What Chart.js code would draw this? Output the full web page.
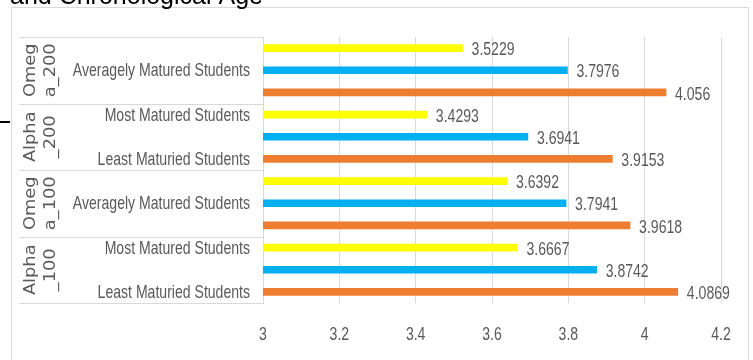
<!DOCTYPE html>
<html>
<head>
<meta charset="utf-8">
<script src="https://cdn.jsdelivr.net/npm/chart.js@4/dist/chart.umd.min.js"></script>
<style>
  html, body { margin: 0; padding: 0; background: #ffffff; overflow: hidden; }
  #wrap { position: relative; width: 753px; height: 360px; }
  #c { position: absolute; left: 0; top: 0; }
  #mark { position: absolute; left: 0; top: 121px; width: 10px; height: 2px; background: #000; }
</style>
</head>
<body>
<div id="wrap">
  <canvas id="c" width="753" height="360"></canvas>
  <div id="mark"></div>
</div>
<script>
// ---- data (bottom to top, as in the reference) ----
const titleText = 'and Chronological Age';
const groupLines = [['Alpha', '_100'], ['Omeg', 'a_100'], ['Alpha', '_200'], ['Omeg', 'a_200']];
const subCategories = ['Least Maturied Students', 'Averagely Matured Students', 'Most Matured Students'];
const alpha100 = [4.0869, 3.8742, 3.6667];
const omega100 = [3.9618, 3.7941, 3.6392];
const alpha200 = [3.9153, 3.6941, 3.4293];
const omega200 = [4.056, 3.7976, 3.5229];
const xTickLabels = ['3', '3.2', '3.4', '3.6', '3.8', '4', '4.2'];
const subColors = ['#ED7D31', '#00B0F0', '#FFFF00'];

const groupValues = [alpha100, omega100, alpha200, omega200];
const labels = [];
const values = [];
const colors = [];
groupValues.forEach(g => g.forEach((v, i) => { labels.push(subCategories[i]); values.push(v); colors.push(subColors[i]); }));

const TEXT = '#595959';
const LINE = '#d9d9d9';
const NARROW_FONT = "19px 'Liberation Sans', Arial, sans-serif";
const SQUEEZE = 0.74;

function narrowText(ctx, text, x, y, align, baseline) {
  ctx.save();
  ctx.font = NARROW_FONT;
  ctx.fillStyle = TEXT;
  ctx.textAlign = align;
  ctx.textBaseline = baseline;
  ctx.translate(x, y);
  ctx.scale(SQUEEZE, 1);
  ctx.fillText(text, 0, 0);
  ctx.restore();
}

const decor = {
  id: 'decor',
  beforeDraw(chart) {
    const ctx = chart.ctx;
    ctx.save();
    ctx.strokeStyle = LINE; ctx.lineWidth = 1;
    ctx.strokeRect(11.5, 7.5, 737, 400);
    ctx.fillStyle = '#000';
    ctx.font = "25px 'Liberation Sans', Arial, sans-serif";
    ctx.textAlign = 'left'; ctx.textBaseline = 'alphabetic';
    ctx.fillText(titleText, 10, 4);
    ctx.restore();
  },
  afterDraw(chart) {
    const ctx = chart.ctx;
    const y = chart.scales.y;
    const x = chart.scales.x;
    const left = chart.chartArea.left;
    const step = Math.abs(y.getPixelForValue(1) - y.getPixelForValue(0));
    ctx.save();
    // group separators
    ctx.strokeStyle = LINE; ctx.lineWidth = 1;
    for (let g = 0; g <= groupLines.length; g++) {
      const idx = g * 3;
      const py = Math.round(y.getPixelForValue(Math.min(idx, labels.length - 1)) + (idx >= labels.length ? -step / 2 : step / 2)) + 0.5;
      ctx.beginPath(); ctx.moveTo(19, py); ctx.lineTo(left, py); ctx.stroke();
    }
    // group labels (rotated)
    ctx.fillStyle = TEXT;
    ctx.font = "16.5px 'DejaVu Sans', sans-serif";
    ctx.textAlign = 'center'; ctx.textBaseline = 'middle';
    groupLines.forEach((lines, g) => {
      const cy = y.getPixelForValue(g * 3 + 1);
      ctx.save();
      ctx.translate(0, cy);
      ctx.rotate(-Math.PI / 2);
      ctx.scale(1.08, 1);
      ctx.fillText(lines[0], 0, 31);
      ctx.fillText(lines[1], 0, 51);
      ctx.restore();
    });
    ctx.restore();
    // category labels (every other one, as in the reference)
    labels.forEach((lab, i) => {
      if (i % 2 === 0) narrowText(ctx, lab, left - 13, y.getPixelForValue(i) + 1, 'right', 'middle');
    });
    // x tick labels
    x.ticks.forEach((t, i) => {
      narrowText(ctx, xTickLabels[i], x.getPixelForValue(t.value), chart.chartArea.bottom + 32, 'center', 'middle');
    });
    // data labels
    const meta = chart.getDatasetMeta(0);
    meta.data.forEach((bar, i) => {
      narrowText(ctx, String(values[i]), bar.x + 9, bar.y + 2, 'left', 'middle');
    });
  }
};

new Chart(document.getElementById('c'), {
  type: 'bar',
  data: {
    labels: labels,
    datasets: [{
      data: values,
      backgroundColor: colors,
      borderWidth: 0,
      barThickness: 7
    }]
  },
  options: {
    indexAxis: 'y',
    responsive: false,
    devicePixelRatio: 1,
    animation: false,
    layout: { padding: { top: 37, right: 32, bottom: 0, left: 0 } },
    plugins: { legend: { display: false }, tooltip: { enabled: false }, title: { display: false } },
    scales: {
      x: {
        min: 3, max: 4.2,
        grid: { color: LINE, drawTicks: false },
        border: { display: false },
        ticks: { stepSize: 0.2, display: false },
        afterFit: s => { s.height = 57; }
      },
      y: {
        reverse: true,
        grid: { display: false, drawTicks: false },
        border: { display: true, color: LINE },
        ticks: { autoSkip: false, display: false },
        afterFit: s => { s.width = 263; }
      }
    }
  },
  plugins: [decor]
});
</script>
</body>
</html>
